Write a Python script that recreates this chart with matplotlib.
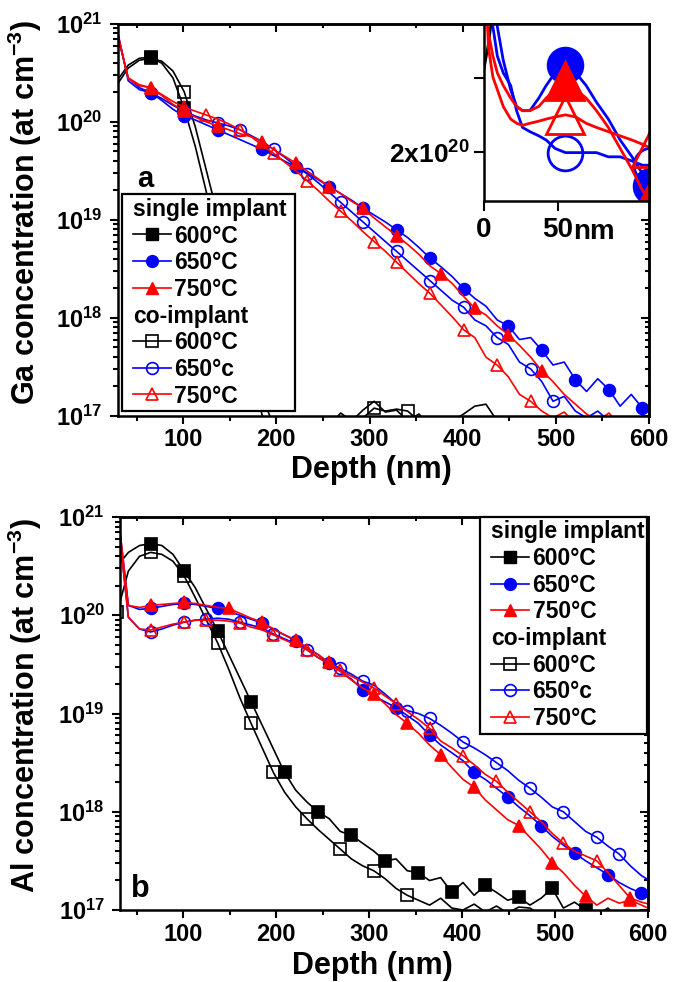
import numpy as np
import matplotlib
matplotlib.use('Agg')
import matplotlib.pyplot as plt
from matplotlib.lines import Line2D
from matplotlib.ticker import MultipleLocator, FixedLocator, FixedFormatter, NullLocator, LogLocator
from matplotlib.legend_handler import HandlerBase, HandlerLine2D
import matplotlib.text as mtext
import matplotlib.transforms as mtransforms

plt.rcParams['font.family'] = ['Liberation Sans', 'DejaVu Sans']
plt.rcParams['font.weight'] = 'bold'
plt.rcParams['mathtext.fontset'] = 'custom'
plt.rcParams['mathtext.rm'] = 'Liberation Sans:bold'
plt.rcParams['mathtext.bf'] = 'Liberation Sans:bold'
plt.rcParams['mathtext.it'] = 'Liberation Sans:bold'
plt.rcParams['mathtext.default'] = 'bf'

# ---------------- data (log10 of concentration, at cm^-3) ----------------
depth = [29, 41, 53, 65, 77, 89, 101, 113, 125, 137, 149, 161, 173, 185, 197, 209,
         221, 233, 245, 257, 269, 281, 293, 305, 317, 329, 341, 353, 365, 377, 389,
         401, 413, 425, 437, 449, 461, 473, 485, 497, 509, 521, 533, 545, 557, 569,
         581, 593, 605]

# (a) Ga
ga_600_single = [20.42, 20.58, 20.65, 20.66, 20.60, 20.45, 20.14, 19.75, 19.28, 18.82, 18.36,
                 17.90, 17.45, 17.00, 16.90, 16.90, 16.90, 16.90, 16.90, 16.90, 17.03, 16.95,
                 17.06, 17.15, 17.04, 17.06, 16.95, 17.02, 16.90, 16.90, 16.95, 17.02, 17.10,
                 17.12, 16.95, 16.90, 16.90, 16.90, 16.90, 16.90, 16.90, 16.90, 16.90, 16.90,
                 16.90, 16.90, 16.90, 16.90, 16.90]
ga_650_single = [20.90, 20.45, 20.35, 20.30, 20.22, 20.13, 20.06, 20.02, 19.97, 19.92, 19.87,
                 19.82, 19.77, 19.72, 19.66, 19.60, 19.54, 19.48, 19.41, 19.34, 19.27, 19.20,
                 19.12, 19.05, 18.98, 18.90, 18.82, 18.72, 18.61, 18.52, 18.42, 18.30, 18.20,
                 18.12, 17.98, 17.92, 17.78, 17.80, 17.67, 17.52, 17.55, 17.37, 17.25, 17.38,
                 17.27, 17.10, 17.22, 17.08, 17.06]
ga_750_single = [20.92, 20.45, 20.38, 20.35, 20.27, 20.18, 20.11, 20.05, 20.00, 19.96, 19.92,
                 19.88, 19.85, 19.80, 19.72, 19.65, 19.58, 19.50, 19.42, 19.34, 19.27, 19.19,
                 19.12, 19.02, 18.93, 18.84, 18.75, 18.65, 18.53, 18.45, 18.35, 18.22, 18.10,
                 18.03, 17.92, 17.83, 17.72, 17.60, 17.46, 17.35, 17.22, 17.12, 17.02, 16.95,
                 17.03, 16.90, 16.90, 16.90, 16.90]
ga_600_co = [20.38, 20.55, 20.63, 20.65, 20.62, 20.52, 20.31, 19.95, 19.50, 19.05, 18.58,
             18.12, 17.66, 17.20, 16.90, 16.90, 16.90, 16.90, 16.90, 16.90, 16.90, 16.90,
             16.98, 17.08, 17.05, 17.07, 17.05, 16.95, 16.90, 16.90, 16.90, 16.90, 16.90,
             16.90, 16.90, 16.90, 16.90, 16.90, 16.90, 16.90, 16.90, 16.90, 16.90, 16.90,
             16.90, 16.90, 16.90, 16.90, 16.90]
ga_650_co = [20.95, 20.42, 20.33, 20.30, 20.24, 20.17, 20.11, 20.06, 20.02, 19.99, 19.96,
             19.92, 19.86, 19.80, 19.72, 19.64, 19.55, 19.47, 19.38, 19.28, 19.18, 19.08,
             18.98, 18.88, 18.78, 18.68, 18.58, 18.48, 18.38, 18.28, 18.18, 18.11, 17.98,
             17.92, 17.80, 17.73, 17.55, 17.48, 17.35, 17.15, 17.20, 17.05, 16.98, 17.05,
             16.95, 16.90, 16.90, 16.90, 16.90]
ga_750_co = [20.93, 20.44, 20.37, 20.35, 20.28, 20.21, 20.15, 20.11, 20.07, 20.03, 19.98,
             19.92, 19.85, 19.76, 19.68, 19.59, 19.50, 19.40, 19.30, 19.19, 19.09, 18.99,
             18.88, 18.78, 18.68, 18.57, 18.46, 18.35, 18.25, 18.13, 18.01, 17.88, 17.80,
             17.60, 17.52, 17.40, 17.22, 17.15, 17.05, 16.98, 17.04, 16.92, 16.90, 16.90,
             16.90, 16.90, 16.90, 16.90, 16.90]

# (b) Al
al_600_single = [20.50, 20.64, 20.71, 20.73, 20.71, 20.62, 20.45, 20.28, 20.06, 19.84, 19.60,
                 19.36, 19.12, 18.88, 18.64, 18.40, 18.22, 18.10, 18.00, 17.93, 17.80, 17.76,
                 17.68, 17.60, 17.50, 17.52, 17.40, 17.38, 17.30, 17.33, 17.18, 17.28, 17.15,
                 17.25, 17.18, 17.10, 17.13, 17.05, 17.12, 17.22, 17.02, 17.08, 17.00, 16.95,
                 17.02, 16.90, 16.95, 16.90, 16.90]
al_650_single = [21.10, 20.10, 20.06, 20.07, 20.09, 20.11, 20.12, 20.11, 20.09, 20.07, 20.04,
                 20.00, 19.96, 19.92, 19.86, 19.80, 19.74, 19.67, 19.60, 19.51, 19.43, 19.35,
                 19.24, 19.18, 19.12, 19.06, 18.98, 18.90, 18.78, 18.68, 18.60, 18.52, 18.40,
                 18.33, 18.24, 18.15, 18.05, 17.96, 17.86, 17.75, 17.66, 17.58, 17.50, 17.43,
                 17.36, 17.28, 17.22, 17.17, 17.10]
al_750_single = [21.10, 20.10, 20.08, 20.10, 20.11, 20.12, 20.13, 20.12, 20.10, 20.08, 20.07,
                 20.02, 19.97, 19.93, 19.86, 19.80, 19.75, 19.67, 19.60, 19.52, 19.43, 19.34,
                 19.26, 19.20, 19.10, 18.99, 18.90, 18.80, 18.68, 18.58, 18.45, 18.33, 18.25,
                 18.12, 18.02, 17.92, 17.86, 17.74, 17.62, 17.48, 17.38, 17.25, 17.14, 17.05,
                 17.12, 17.07, 17.10, 17.05, 17.00]
al_600_co = [20.03, 20.45, 20.60, 20.64, 20.62, 20.55, 20.40, 20.18, 19.95, 19.72, 19.45,
             19.16, 18.90, 18.65, 18.40, 18.20, 18.05, 17.93, 17.82, 17.72, 17.62, 17.52,
             17.45, 17.40, 17.32, 17.22, 17.15, 17.10, 17.05, 17.12, 17.02, 17.00, 17.06,
             16.98, 17.04, 16.97, 17.03, 17.02, 16.95, 16.90, 16.93, 16.90, 16.90, 16.90,
             16.90, 16.90, 16.90, 16.90, 16.90]
al_650_co = [21.05, 19.98, 19.86, 19.83, 19.86, 19.90, 19.93, 19.95, 19.96, 19.97, 19.96,
             19.93, 19.90, 19.87, 19.81, 19.76, 19.71, 19.65, 19.57, 19.51, 19.46, 19.40,
             19.33, 19.29, 19.20, 19.10, 19.03, 19.00, 18.95, 18.88, 18.80, 18.71, 18.65,
             18.58, 18.50, 18.42, 18.32, 18.24, 18.15, 18.05, 18.00, 17.90, 17.80, 17.74,
             17.65, 17.57, 17.45, 17.35, 17.28]
al_750_co = [21.05, 19.98, 19.86, 19.85, 19.88, 19.91, 19.93, 19.95, 19.95, 19.95, 19.94,
             19.92, 19.88, 19.85, 19.80, 19.75, 19.70, 19.65, 19.57, 19.50, 19.44, 19.38,
             19.32, 19.26, 19.18, 19.10, 19.02, 18.94, 18.85, 18.72, 18.65, 18.57, 18.48,
             18.38, 18.31, 18.20, 18.10, 18.00, 17.90, 17.78, 17.68, 17.60, 17.55, 17.50,
             17.38, 17.25, 17.12, 17.08, 17.05]

# inset of (a): near-surface Ga
inset_depth = [0, 3, 6, 9, 13, 18, 22, 26, 31, 37, 42, 48, 55, 62, 69, 76, 84, 92, 100, 107, 113]
in_650_single = [20.90, 20.75, 20.66, 20.60, 20.52, 20.45, 20.41, 20.40, 20.40, 20.43, 20.46,
                 20.49, 20.51, 20.49, 20.46, 20.42, 20.38, 20.33, 20.29, 20.25, 20.22]
in_650_co = [20.90, 20.70, 20.60, 20.53, 20.49, 20.46, 20.40, 20.36, 20.35, 20.34, 20.33,
             20.31, 20.30, 20.30, 20.30, 20.30, 20.29, 20.29, 20.28, 20.27, 20.27]
in_750_single = [20.70, 20.585, 20.53, 20.49, 20.46, 20.43, 20.41, 20.40, 20.40, 20.41, 20.43,
                 20.45, 20.47, 20.45, 20.43, 20.40, 20.36, 20.31, 20.26, 20.21, 20.19]
in_750_co = [20.80, 20.55, 20.48, 20.45, 20.41, 20.38, 20.37, 20.365, 20.37, 20.375, 20.38,
             20.385, 20.39, 20.385, 20.37, 20.36, 20.35, 20.34, 20.33, 20.32, 20.31]
in_black_depth = [0, 3, 6, 9]
in_600_single = [20.50, 20.56, 20.64, 20.72]

legend_labels_single = ['600°C', '650°C', '750°C']
legend_labels_co = ['600°C', '650°c', '750°C']

BLUE = '#0000ff'
RED = '#ff0000'
BLACK = '#000000'
FS_TICK = 17
FS_LAB = 22
FS_LEG = 16.5
LEG_XPAD = 0.33

fig = plt.figure(figsize=(6.73, 9.82), dpi=100)
ax_a = fig.add_axes([0.1753, 0.5764, 0.789, 0.3992])
ax_b = fig.add_axes([0.1783, 0.0733, 0.7845, 0.4002])


def draw(ax, x, ylog, color, marker, filled, marks, ms=8.5, lw=1.2, mew=1.2):
    ax.plot(x, 10 ** np.asarray(ylog), color=color, lw=lw, marker=marker,
            markevery=marks, ms=ms, mfc=color if filled else 'none', mec=color, mew=mew)


# panel a
draw(ax_a, depth, ga_600_co, BLACK, 's', False, [3, 6, 23, 26], ms=8)
draw(ax_a, depth, ga_600_single, BLACK, 's', True, [3, 6, 9], ms=8)
draw(ax_a, depth, ga_650_co, BLUE, 'o', False, [3, 6, 9, 11, 14, 17, 20, 22, 25, 28, 31, 34, 37, 39])
draw(ax_a, depth, ga_650_single, BLUE, 'o', True, [3, 6, 9, 13, 16, 19, 22, 25, 28, 31, 35, 38, 41, 44, 47])
draw(ax_a, depth, ga_750_co, RED, '^', False, [3, 6, 8, 11, 14, 17, 20, 23, 25, 28, 31, 34, 37])
draw(ax_a, depth, ga_750_single, RED, '^', True, [3, 6, 9, 13, 16, 19, 22, 25, 29, 32, 35, 38])

# panel b
draw(ax_b, depth, al_600_co, BLACK, 's', False, [0, 3, 6, 9, 12, 14, 17, 20, 23, 26], ms=8)
draw(ax_b, depth, al_600_single, BLACK, 's', True, [3, 6, 9, 12, 15, 18, 21, 24, 27, 30, 33, 36, 39, 42], ms=8)
draw(ax_b, depth, al_650_co, BLUE, 'o', False, [3, 6, 8, 11, 14, 17, 20, 22, 26, 28, 31, 34, 37, 40, 43, 45])
draw(ax_b, depth, al_650_single, BLUE, 'o', True, [3, 6, 9, 13, 16, 19, 22, 25, 28, 32, 35, 38, 41, 44, 47])
draw(ax_b, depth, al_750_co, RED, '^', False, [3, 6, 8, 11, 14, 17, 20, 23, 25, 28, 31, 34, 37, 40, 43, 46])
draw(ax_b, depth, al_750_single, RED, '^', True, [3, 6, 10, 13, 16, 19, 23, 26, 29, 32, 36, 39, 42, 46])

for ax, xmin in ((ax_a, 30), (ax_b, 32)):
    ax.set_yscale('log')
    ax.set_xlim(xmin, 600)
    ax.set_ylim(1e17, 1e21)
    ax.xaxis.set_major_locator(FixedLocator([100, 200, 300, 400, 500, 600]))
    ax.xaxis.set_minor_locator(MultipleLocator(50))
    ax.yaxis.set_major_locator(FixedLocator([1e17, 1e18, 1e19, 1e20, 1e21]))
    ax.yaxis.set_major_formatter(FixedFormatter([r'$\mathbf{10^{17}}$', r'$\mathbf{10^{18}}$',
                                                 r'$\mathbf{10^{19}}$', r'$\mathbf{10^{20}}$',
                                                 r'$\mathbf{10^{21}}$']))
    ax.yaxis.set_minor_locator(LogLocator(base=10, subs=np.arange(2, 10)))
    ax.tick_params(which='both', direction='out', width=1.5, top=False, right=False)
    ax.tick_params(which='major', length=6)
    ax.tick_params(which='minor', length=3.5)
    ax.tick_params(axis='x', labelsize=FS_TICK, pad=3)
    ax.tick_params(axis='y', labelsize=17, pad=5)
    for sp in ax.spines.values():
        sp.set_linewidth(1.8)
    sx = ax.secondary_xaxis('top')
    sx.xaxis.set_major_locator(FixedLocator([100, 200, 300, 400, 500, 600]))
    sx.xaxis.set_minor_locator(MultipleLocator(50))
    sx.tick_params(which='both', direction='in', width=1.5, labeltop=False)
    sx.tick_params(which='major', length=6)
    sx.tick_params(which='minor', length=3)
    sx.spines['top'].set_linewidth(1.8)
    sy = ax.secondary_yaxis('right')
    sy.tick_params(which='both', direction='in', width=1.5, labelright=False)
    sy.tick_params(which='major', length=6)
    sy.tick_params(which='minor', length=3)
    sy.spines['right'].set_linewidth(1.8)
    ax.set_xlabel('Depth (nm)', fontsize=FS_LAB, fontweight='bold')

ax_a.xaxis.set_label_coords(0.478, -0.1)
ax_b.xaxis.set_label_coords(0.478, -0.104)
ax_a.set_ylabel(r'Ga concentration (at cm$^{\mathbf{-3}}$)', fontsize=FS_LAB, fontweight='bold')
ax_b.set_ylabel(r'Al concentration (at cm$^{\mathbf{-3}}$)', fontsize=FS_LAB, fontweight='bold')
ax_a.yaxis.set_label_coords(-0.14, 0.52)
ax_b.yaxis.set_label_coords(-0.143, 0.52)

ax_a.text(0.036, 0.585, 'a', transform=ax_a.transAxes, fontsize=21, fontweight='bold', va='baseline')
ax_b.text(0.02, 0.033, 'b', transform=ax_b.transAxes, fontsize=22, fontweight='bold', va='baseline')


# legends
class Header:
    def __init__(self, text):
        self.text = text


class HeaderHandler(HandlerBase):
    def legend_artist(self, legend, orig_handle, fontsize, handlebox):
        t = mtext.Text(LEG_XPAD * fontsize, 0, orig_handle.text, fontsize=fontsize,
                       fontweight='bold', family=['Liberation Sans', 'DejaVu Sans'],
                       va='baseline', ha='left')
        handlebox.add_artist(t)
        return t


def make_handles():
    hs = [Header('single implant'),
          Line2D([], [], color=BLACK, marker='s', ms=8, mfc=BLACK, mec=BLACK, lw=1.2),
          Line2D([], [], color=BLUE, marker='o', ms=8.5, mfc=BLUE, mec=BLUE, lw=1.2),
          Line2D([], [], color=RED, marker='^', ms=8.5, mfc=RED, mec=RED, lw=1.2),
          Header('co-implant'),
          Line2D([], [], color=BLACK, marker='s', ms=8, mfc='none', mec=BLACK, mew=1.2, lw=1.2),
          Line2D([], [], color=BLUE, marker='o', ms=8.5, mfc='none', mec=BLUE, mew=1.2, lw=1.2),
          Line2D([], [], color=RED, marker='^', ms=8.5, mfc='none', mec=RED, mew=1.2, lw=1.2)]
    labels = [''] + legend_labels_single + [''] + legend_labels_co
    return hs, labels


leg_kw = dict(prop=dict(family=['Liberation Sans', 'DejaVu Sans'], weight='bold', size=FS_LEG),
              handlelength=1.99, handletextpad=0.15, borderpad=0.15, labelspacing=0.16,
              fancybox=False, edgecolor='black', framealpha=1, mode='expand',
              borderaxespad=0,
              handler_map={Header: HeaderHandler(), Line2D: HandlerLine2D(xpad=LEG_XPAD)})

h, l = make_handles()
leg_a = ax_a.legend(h, l, loc='lower left', bbox_to_anchor=(0.0075, 0.0128, 0.326, 0.5), **leg_kw)
leg_a.get_frame().set_linewidth(1.6)
leg_a.set_zorder(5)
h, l = make_handles()
leg_b = ax_b.legend(h, l, loc='upper left', bbox_to_anchor=(0.682, 0.0, 0.316, 1.0), **leg_kw)
leg_b.get_frame().set_linewidth(1.6)
leg_b.set_zorder(5)

# inset
axin = fig.add_axes([0.7192, 0.7953, 0.2452, 0.1802])
axin.set_yscale('log')
axin.plot(in_black_depth, 10 ** np.asarray(in_600_single), color=BLACK, lw=2)
draw(axin, inset_depth, in_650_co, BLUE, 'o', False, [12, 20], ms=25, lw=2, mew=2)
draw(axin, inset_depth, in_650_single, BLUE, 'o', True, [12, 20], ms=25, lw=2, mew=2)
draw(axin, inset_depth, in_750_co, RED, '^', False, [12, 20], ms=27, lw=2, mew=2)
draw(axin, inset_depth, in_750_single, RED, '^', True, [12, 20], ms=27, lw=2, mew=2)
axin.set_xlim(0, 111.5)
axin.set_ylim(1.53e20, 4.04e20)
axin.yaxis.set_major_locator(FixedLocator([2e20, 3e20]))
axin.yaxis.set_major_formatter(FixedFormatter([r'$\mathbf{2x10^{20}}$', '']))
axin.yaxis.set_minor_locator(NullLocator())
axin.xaxis.set_major_locator(FixedLocator([0, 50]))
axin.xaxis.set_major_formatter(FixedFormatter(['0', '50']))
axin.xaxis.set_minor_locator(NullLocator())
axin.tick_params(direction='out', length=7.5, width=1.5, labelsize=20, pad=4)
axin.tick_params(axis='y', labelsize=19, pad=3)
for sp in axin.spines.values():
    sp.set_linewidth(1.8)
nm_tr = mtransforms.blended_transform_factory(axin.transData, axin.transAxes)
axin.text(60.5, -0.0686 - (4 * 100 / 72) / 177, 'nm', transform=nm_tr, fontsize=20,
          fontweight='bold', ha='left', va='top')

fig.savefig('out.png', dpi=100)
